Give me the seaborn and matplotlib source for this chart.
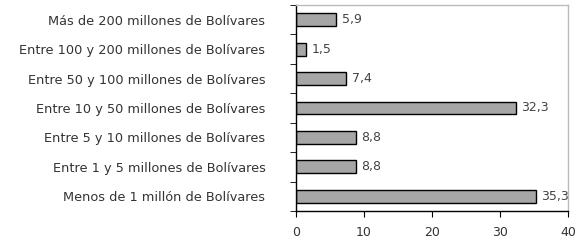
import numpy as np
import pandas as pd
import matplotlib
matplotlib.use("Agg")
import matplotlib.pyplot as plt
import seaborn as sns

categorias = [
    "Más de 200 millones de Bolívares",
    "Entre 100 y 200 millones de Bolívares",
    "Entre 50 y 100 millones de Bolívares",
    "Entre 10 y 50 millones de Bolívares",
    "Entre 5 y 10 millones de Bolívares",
    "Entre 1 y 5 millones de Bolívares",
    "Menos de 1 millón de Bolívares",
]
porcentajes = [5.9, 1.5, 7.4, 32.3, 8.8, 8.8, 35.3]
etiquetas = ["5,9", "1,5", "7,4", "32,3", "8,8", "8,8", "35,3"]
xticks = [0, 10, 20, 30, 40]

df = pd.DataFrame({"categoria": categorias, "valor": porcentajes})

sns.set_style("white")
plt.rcParams["font.family"] = ["DejaVu Sans"]

fig = plt.figure(figsize=(5.85, 2.44), dpi=100)
ax = fig.add_axes([296 / 585, 1 - 211 / 244, (568 - 296) / 585, (211 - 5) / 244])

sns.barplot(data=df, x="valor", y="categoria", color="#a6a6a6", edgecolor="black",
            linewidth=1.0, width=0.44, saturation=1, ax=ax)

for i, (v, lab) in enumerate(zip(porcentajes, etiquetas)):
    ax.text(v + 0.8, i, lab, va="center", ha="left", fontsize=9, color="#444444")

ax.set_xlim(0, 40)
ax.set_ylim(6.5, -0.5)
ax.set_xticks(xticks)
ax.set_xticklabels([str(t) for t in xticks], fontsize=9, color="#333333")
ax.set_yticks(range(len(categorias)))
ax.set_yticklabels(categorias, fontsize=9.3, color="#333333")
ax.tick_params(axis="y", which="major", left=True, length=0, pad=22)
ax.tick_params(axis="x", bottom=True, length=4, color="black", direction="out", pad=7)
ax.set_yticks(np.arange(-0.5, 7, 1), minor=True)
ax.tick_params(axis="y", which="minor", left=True, length=4, color="black", direction="out")
ax.set_xlabel("")
ax.set_ylabel("")

for side in ["left", "bottom"]:
    ax.spines[side].set_color("black")
    ax.spines[side].set_linewidth(1.0)
for side in ["top", "right"]:
    ax.spines[side].set_color("#bbbbbb")
    ax.spines[side].set_linewidth(1.0)

fig.savefig("out.png", dpi=100)
